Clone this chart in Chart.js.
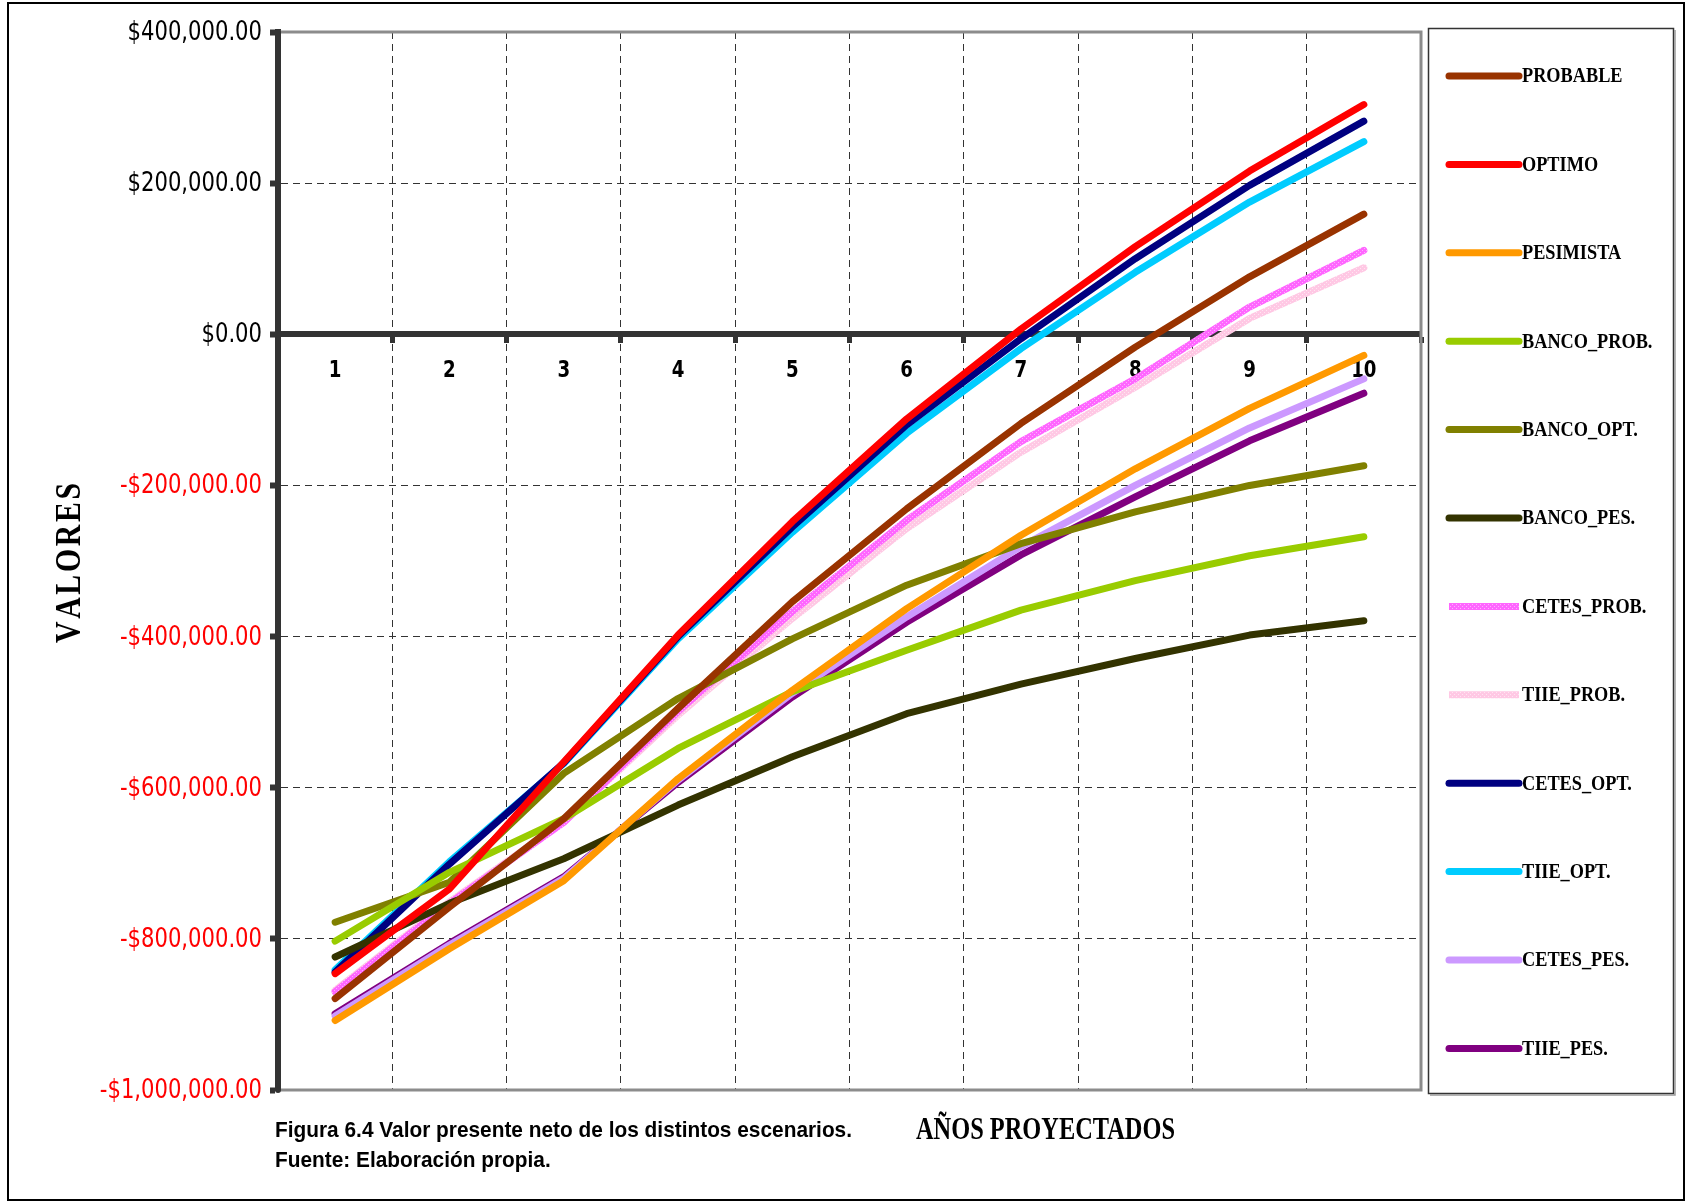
<!DOCTYPE html>
<html>
<head>
<meta charset="utf-8">
<script src="https://cdn.jsdelivr.net/npm/chart.js@4.4.1/dist/chart.umd.min.js"></script>
<style>
  html, body { margin: 0; padding: 0; background: #ffffff; }
  #wrap { position: relative; width: 1686px; height: 1204px; }
  canvas { display: block; }
</style>
</head>
<body>
<div id="wrap"><canvas id="c" width="1686" height="1204"></canvas></div>
<script>
// ---------------- data ----------------
const categories = ['1', '2', '3', '4', '5', '6', '7', '8', '9', '10'];
const seriesNames = ['PROBABLE', 'OPTIMO', 'PESIMISTA', 'BANCO_PROB.', 'BANCO_OPT.', 'BANCO_PES.',
                     'CETES_PROB.', 'TIIE_PROB.', 'CETES_OPT.', 'TIIE_OPT.', 'CETES_PES.', 'TIIE_PES.'];
const probable  = [-879000, -758000, -641000, -495000, -354000, -231000, -118000, -17000, 76000, 159000];
const optimo    = [-846000, -734000, -566000, -398000, -248000, -112000, 7000, 116000, 216000, 304000];
const pesimista = [-908000, -813000, -723000, -588000, -471000, -363000, -266000, -178000, -98000, -28000];
const bancoProb = [-803000, -712000, -641000, -548000, -473000, -418000, -365000, -326000, -293000, -268000];
const bancoOpt  = [-778000, -725000, -581000, -482000, -403000, -332000, -277000, -235000, -200000, -174000];
const bancoPes  = [-824000, -753000, -694000, -623000, -559000, -502000, -463000, -429000, -398000, -379000];
const cetesProb = [-870000, -753000, -646000, -499000, -367000, -246000, -142000, -59000, 36000, 111000];
const tiieProb  = [-868000, -751000, -645000, -504000, -376000, -257000, -156000, -70000, 21000, 88000];
const cetesOpt  = [-844000, -701000, -567000, -400000, -255000, -120000, -6000, 100000, 197000, 282000];
const tiieOpt   = [-841000, -698000, -568000, -403000, -262000, -131000, -19000, 82000, 175000, 255000];
const cetesPes  = [-902000, -808000, -720000, -590000, -475000, -374000, -281000, -200000, -124000, -59000];
const tiiePes   = [-899000, -806000, -718000, -593000, -480000, -381000, -292000, -215000, -141000, -78000];
const yMin = -1000000;
const yMax = 400000;
const yStep = 200000;

const yTitle = 'VALORES';
const xTitle = 'AÑOS PROYECTADOS';
const captionLines = ['Figura 6.4 Valor presente neto de los distintos escenarios.', 'Fuente: Elaboración propia.'];

// ---------------- styles ----------------
function dotted(base, dot) {
  const p = document.createElement('canvas');
  p.width = 4; p.height = 4;
  const g = p.getContext('2d');
  g.fillStyle = base; g.fillRect(0, 0, 4, 4);
  g.fillStyle = dot; g.fillRect(0, 0, 1, 1); g.fillRect(2, 2, 1, 1);
  return g.createPattern(p, 'repeat');
}
const colors = ['#993300', '#FF0000', '#FF9900', '#99CC00', '#808000', '#333300',
                dotted('#FF66FF', '#FFB0FF'), dotted('#FFC8E4', '#FFE6F2'),
                '#000080', '#00CCFF', '#CC99FF', '#800080'];
const values = [probable, optimo, pesimista, bancoProb, bancoOpt, bancoPes,
                cetesProb, tiieProb, cetesOpt, tiieOpt, cetesPes, tiiePes];

const datasets = seriesNames.map((name, i) => ({
  label: name,
  data: values[i],
  borderColor: colors[i],
  backgroundColor: colors[i],
  borderWidth: 7,
  borderCapStyle: 'round',
  borderJoinStyle: 'round',
  pointRadius: 0,
  pointHoverRadius: 0,
  tension: 0,
  fill: false
}));

function fmtMoney(v) {
  const s = Math.abs(v).toLocaleString('en-US', {minimumFractionDigits: 2, maximumFractionDigits: 2});
  return (v < 0 ? '-$' : '$') + s;
}

const PLOT = {left: 278, top: 32, right: 1421, bottom: 1090};

function scaledText(ctx, text, x, y, sx) {
  ctx.save();
  ctx.translate(x, y);
  ctx.scale(sx, 1);
  ctx.fillText(text, 0, 0);
  ctx.restore();
}

const decor = {
  id: 'decor',
  beforeDatasetsDraw(chart) {
    const ctx = chart.ctx;
    const a = chart.chartArea;
    ctx.save();
    ctx.strokeStyle = '#8c8c8c';
    ctx.lineWidth = 3;
    ctx.beginPath();
    ctx.moveTo(a.left, a.top); ctx.lineTo(a.right, a.top);
    ctx.lineTo(a.right, a.bottom); ctx.lineTo(a.left, a.bottom);
    ctx.stroke();
    ctx.strokeStyle = '#333333';
    ctx.lineWidth = 6;
    ctx.lineCap = 'round';
    ctx.beginPath();
    ctx.moveTo(a.left, a.top); ctx.lineTo(a.left, a.bottom);
    ctx.stroke();

    // y tick labels (from the library's y scale)
    const ys = chart.scales.y;
    ctx.font = '27px "DejaVu Sans Condensed", "DejaVu Sans", sans-serif';
    ctx.textAlign = 'right';
    ctx.textBaseline = 'middle';
    ys.ticks.forEach((t) => {
      ctx.fillStyle = t.value < 0 ? '#FF0000' : '#000000';
      scaledText(ctx, fmtMoney(t.value), a.left - 16, ys.getPixelForValue(t.value) + 1, 0.87);
    });
    // x tick labels (from the library's x scale)
    const xs = chart.scales.x;
    ctx.font = 'bold 23px "DejaVu Sans Condensed", "DejaVu Sans", sans-serif';
    ctx.textAlign = 'center';
    ctx.fillStyle = '#000';
    const zeroY = ys.getPixelForValue(0);
    categories.forEach((lab, i) => {
      scaledText(ctx, lab, xs.getPixelForTick(i), zeroY + 37, 0.88);
    });
    ctx.restore();
  },
  afterDraw(chart) {
    const ctx = chart.ctx;
    ctx.save();
    // outer frame
    ctx.strokeStyle = '#000';
    ctx.lineWidth = 2;
    ctx.strokeRect(8, 3, 1676, 1197);

    // legend box
    ctx.strokeStyle = '#333';
    ctx.lineWidth = 1.5;
    ctx.strokeRect(1428.5, 28.5, 245, 1065);
    ctx.strokeStyle = '#9a9a9a';
    ctx.lineWidth = 1.5;
    ctx.beginPath();
    ctx.moveTo(1675, 30); ctx.lineTo(1675, 1095); ctx.lineTo(1430, 1095);
    ctx.stroke();

    chart.data.datasets.forEach((ds, i) => {
      const y = 76 + i * 88.4;
      ctx.strokeStyle = ds.borderColor;
      ctx.lineWidth = 7;
      ctx.lineCap = (i === 6 || i === 7) ? 'butt' : 'round';
      ctx.beginPath();
      ctx.moveTo(1449, y); ctx.lineTo(1519, y);
      ctx.stroke();
      ctx.font = 'bold 21px "Liberation Serif", "DejaVu Serif", serif';
      ctx.fillStyle = '#000';
      ctx.textBaseline = 'middle';
      scaledText(ctx, ds.label, 1522, y + 1, 0.87);
    });

    // x title
    ctx.font = 'bold 32px "Liberation Serif", "DejaVu Serif", serif';
    ctx.fillStyle = '#000';
    ctx.textBaseline = 'middle';
    const w = ctx.measureText(xTitle).width;
    scaledText(ctx, xTitle, 916, 1131, 259 / w);

    // y title, rotated with letter spacing
    ctx.save();
    ctx.font = 'bold 35px "Liberation Serif", "DejaVu Serif", serif';
    ctx.fillStyle = '#000';
    ctx.textBaseline = 'middle';
    ctx.translate(71, 563);
    ctx.rotate(-Math.PI / 2);
    const sx = 0.85;
    const letters = yTitle.split('');
    const widths = letters.map(ch => ctx.measureText(ch).width * sx);
    const total = 160;
    const gap = (total - widths.reduce((s, v) => s + v, 0)) / (letters.length - 1);
    let x = -total / 2;
    letters.forEach((ch, k) => {
      scaledText(ctx, ch, x, 0, sx);
      x += widths[k] + gap;
    });
    ctx.restore();

    // caption (narrow bold sans)
    ctx.font = 'bold 22px "Liberation Sans", Arial, sans-serif';
    ctx.fillStyle = '#000';
    ctx.textBaseline = 'middle';
    const cw = ctx.measureText(captionLines[0]).width;
    const csx = 577 / cw;
    scaledText(ctx, captionLines[0], 275, 1131, csx);
    scaledText(ctx, captionLines[1], 275, 1161, csx);

    ctx.restore();
  }
};

new Chart(document.getElementById('c'), {
  type: 'line',
  data: { labels: categories, datasets: datasets },
  plugins: [decor],
  options: {
    responsive: false,
    animation: false,
    devicePixelRatio: 1,
    layout: { padding: { left: 0, top: PLOT.top, right: 1686 - PLOT.right, bottom: 1204 - PLOT.bottom } },
    plugins: {
      legend: { display: false },
      tooltip: { enabled: false },
      title: { display: false }
    },
    scales: {
      x: {
        type: 'category',
        position: { y: 0 },
        offset: true,
        afterFit(scale) { scale.height = 0; },
        grid: {
          offset: true,
          drawOnChartArea: true,
          drawTicks: true,
          tickLength: 6,
          tickWidth: 5,
          tickColor: '#333333',
          lineWidth: 1,
          color: (c) => (c.index === 0 || c.index === undefined) ? 'rgba(0,0,0,0)' : '#333333'
        },
        border: { display: true, color: '#333333', width: 6, dash: [7, 5] },
        ticks: { display: false, autoSkip: false, maxRotation: 0 }
      },
      y: {
        type: 'linear',
        min: yMin,
        max: yMax,
        afterFit(scale) { scale.width = PLOT.left; },
        grid: {
          drawOnChartArea: true,
          drawTicks: true,
          tickLength: 8,
          tickWidth: 6,
          tickColor: '#333333',
          lineWidth: 1,
          color: (c) => {
            const v = c.tick ? c.tick.value : null;
            return (v === yMax || v === yMin || v === 0 || v === null) ? 'rgba(0,0,0,0)' : '#333333';
          }
        },
        border: { display: true, color: '#333333', width: 6, dash: [7, 5] },
        ticks: { display: false, stepSize: yStep, callback: (v) => fmtMoney(v) }
      }
    }
  }
});
</script>
</body>
</html>
